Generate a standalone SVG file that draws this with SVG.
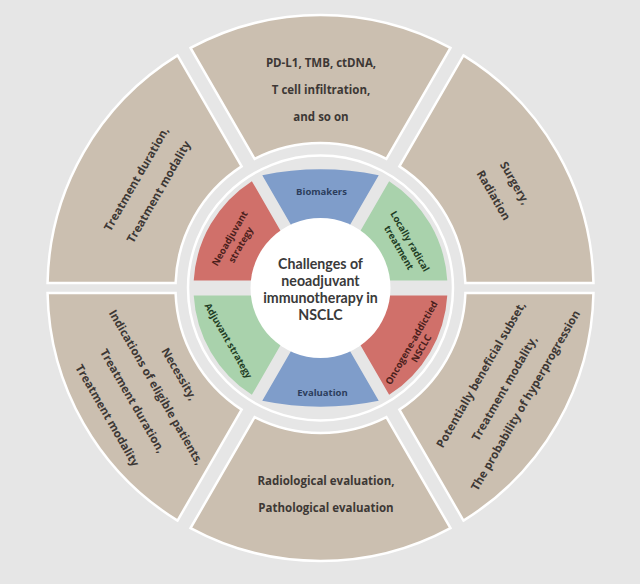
<svg xmlns="http://www.w3.org/2000/svg" width="640" height="584" viewBox="0 0 640 584">
<style>
.tan{fill:#cbbfb0;stroke:#ffffff;stroke-width:2.5;stroke-linejoin:miter}
.blue{fill:#7f9dca}
.red{fill:#d0706a}
.green{fill:#a9d2ac}
.lbl{font-family:"Open Sans","DejaVu Sans",sans-serif;font-weight:700;font-size:11.5px;fill:#3d3835;text-anchor:middle}
.in{font-family:"Open Sans","DejaVu Sans",sans-serif;font-weight:700;font-size:9.5px;text-anchor:middle}
.ctr{font-family:Lato,"Open Sans",sans-serif;font-weight:700;font-size:14.2px;fill:#3a3a3a;text-anchor:middle}
</style>
<rect x="0" y="0" width="640" height="584" fill="#e6e6e6"/>

<g id="outer-top">
<path class="tan" d="M450.46,47.92 A273,273 0 0 0 190.54,47.92 L254.59,158.84 A145,145 0 0 1 386.41,158.84 Z"/>
<text class="lbl" x="321" y="67.3">PD-L1, TMB, ctDNA,</text>
<text class="lbl" x="321" y="94">T cell infiltration,</text>
<text class="lbl" x="321" y="120.7">and so on</text>
</g>

<g id="outer-top-left">
<path class="tan" d="M177.55,55.42 A273,273 0 0 0 47.55,283 L175.59,283 A145,145 0 0 1 241.6,166.34 Z"/>
<g transform="translate(147.5,185.4) rotate(-60)">
<text class="lbl" x="0" y="-8.9">Treatment duration,</text>
<text class="lbl" x="0" y="16.9">Treatment modality</text>
</g>
</g>

<g id="outer-top-right">
<path class="tan" d="M593.45,283 A273,273 0 0 0 463.45,55.42 L399.4,166.34 A145,145 0 0 1 465.41,283 Z"/>
<g transform="translate(504.2,189.2) rotate(60)">
<text class="lbl" x="0" y="-8.3">Surgery,</text>
<text class="lbl" x="0" y="16.3">Radiation</text>
</g>
</g>

<g id="outer-bottom-left">
<path class="tan" d="M47.55,293 A273,273 0 0 0 177.55,520.58 L241.6,409.66 A145,145 0 0 1 175.59,293 Z"/>
<g transform="translate(143.8,394.4) rotate(60)">
<text class="lbl" x="0" y="-36.8">Necessity,</text>
<text class="lbl" x="0" y="-10.2">Indications of eligible patients,</text>
<text class="lbl" x="0" y="17">Treatment duration,</text>
<text class="lbl" x="0" y="46">Treatment modality</text>
</g>
</g>

<g id="outer-bottom">
<path class="tan" d="M190.54,528.08 A273,273 0 0 0 450.46,528.08 L386.41,417.16 A145,145 0 0 1 254.59,417.16 Z"/>
<text class="lbl" x="326" y="485">Radiological evaluation,</text>
<text class="lbl" x="326" y="511.7">Pathological evaluation</text>
</g>

<g id="outer-bottom-right">
<path class="tan" d="M463.45,520.58 A273,273 0 0 0 593.45,293 L465.41,293 A145,145 0 0 1 399.4,409.66 Z"/>
<g transform="translate(503.6,387.8) rotate(-60)">
<text class="lbl" x="0" y="-22.2">Potentially beneficial subset,</text>
<text class="lbl" x="0" y="4.9">Treatment modality,</text>
<text class="lbl" x="0" y="29.3">The probability of hyperprogression</text>
</g>
</g>

<g id="inner-disc">
<circle cx="320.5" cy="288" r="132.5" fill="#e6e6e6" stroke="#ffffff" stroke-width="2.5"/>
</g>

<g id="biomakers">
<path class="blue" d="M378.73,175.14 A290,290 0 0 0 262.27,175.14 L291.33,225.47 A69,69 0 0 1 349.67,225.47 Z"/>
<text class="in" x="321.5" y="195" fill="#2c3d5c">Biomakers</text>
</g>

<g id="neoadjuvant-strategy">
<path class="red" d="M251.87,181.14 A127,127 0 0 0 193.72,280.5 L251.91,280.5 A69,69 0 0 1 280.93,231.47 Z"/>
<g transform="translate(235.4,241.7) rotate(-60)">
<text class="in" x="0" y="-3.3" fill="#4b201c">Neoadjuvant</text>
<text class="in" x="0" y="9.4" fill="#4b201c">strategy</text>
</g>
</g>

<g id="locally-radical-treatment">
<path class="green" d="M447.28,280.5 A127,127 0 0 0 389.13,181.14 L360.07,231.47 A69,69 0 0 1 389.09,280.5 Z"/>
<g transform="translate(404.2,244.6) rotate(60)">
<text class="in" x="0" y="-3.2" fill="#1f3d24">Locally radical</text>
<text class="in" x="0" y="9.4" fill="#1f3d24">treatment</text>
</g>
</g>

<g id="adjuvant-strategy">
<path class="green" d="M193.72,295.5 A127,127 0 0 0 251.87,394.86 L280.93,344.53 A69,69 0 0 1 251.91,295.5 Z"/>
<g transform="translate(228.3,340.8) rotate(60)">
<text class="in" x="0" y="3.2" fill="#1f3d24">Adjuvant strategy</text>
</g>
</g>

<g id="evaluation">
<path class="blue" d="M262.27,400.86 A290,290 0 0 0 378.73,400.86 L349.67,350.53 A69,69 0 0 1 291.33,350.53 Z"/>
<text class="in" x="322.5" y="396" fill="#2c3d5c">Evaluation</text>
</g>

<g id="oncogene-addicted-nsclc">
<path class="red" d="M389.13,394.86 A127,127 0 0 0 447.28,295.5 L389.09,295.5 A69,69 0 0 1 360.07,344.53 Z"/>
<g transform="translate(416.7,345.8) rotate(-60)">
<text class="in" x="0" y="-2.6" fill="#4b201c">Oncogene-addictied</text>
<text class="in" x="0" y="8.6" fill="#4b201c">NSCLC</text>
</g>
</g>

<g id="center">
<circle cx="320.5" cy="288" r="70" fill="#ffffff"/>
<text class="ctr" x="320.5" y="268.5">Challenges of</text>
<text class="ctr" x="320.5" y="285.5">neoadjuvant</text>
<text class="ctr" x="320.5" y="302.5">immunotherapy in</text>
<text class="ctr" x="320.5" y="319.5">NSCLC</text>
</g>

<g id="connectors"></g>
</svg>
